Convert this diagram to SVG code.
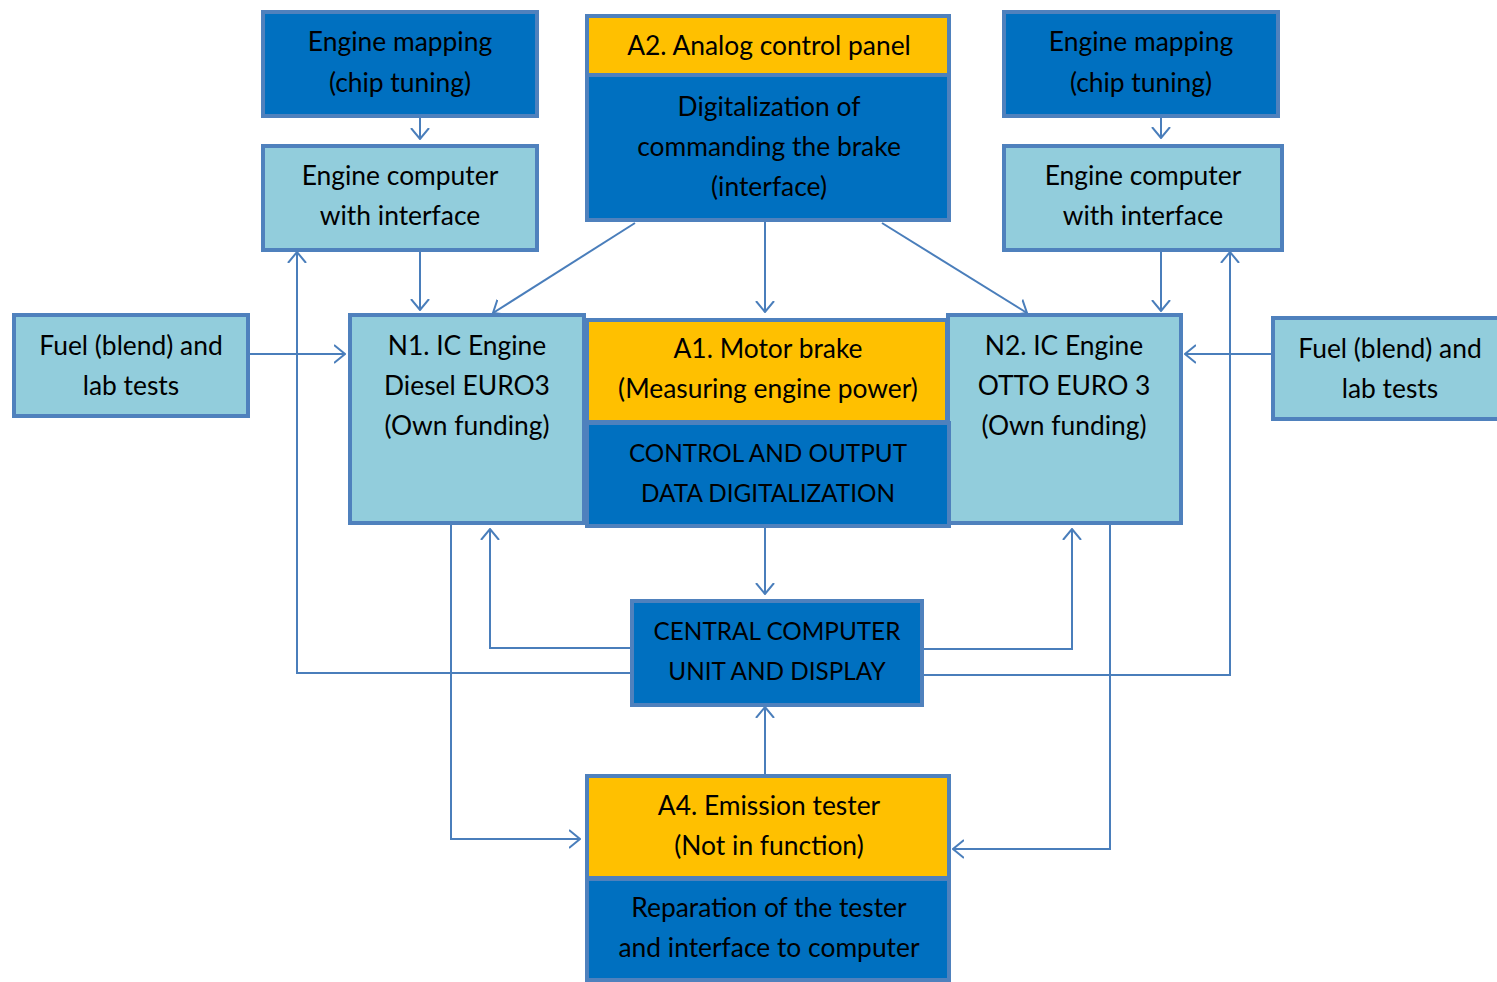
<svg xmlns="http://www.w3.org/2000/svg" width="1497" height="982" viewBox="0 0 1497 982">
<style>
.dk{fill:#0070C0;stroke:#4F81BD;stroke-width:4}
.lt{fill:#92CDDC;stroke:#4F81BD;stroke-width:4}
.yl{fill:#FFC000;stroke:#4F81BD;stroke-width:4}
text{font-family:Lato,"Open Sans","Liberation Sans",sans-serif;font-size:26.4px;fill:#000;text-anchor:middle}
text.u{font-size:24.3px}
.c{fill:none;stroke:#4A7EBB;stroke-width:2}
</style>
<defs>
<marker id="ah" viewBox="0 0 12 20" refX="11" refY="10" markerWidth="12" markerHeight="20" markerUnits="userSpaceOnUse" orient="auto">
<path d="M0,1 L11,10 L0,19" fill="none" stroke="#4A7EBB" stroke-width="2"/>
</marker>
</defs>
<rect width="1497" height="982" fill="#fff"/>
<g id="connectors">
<line class="c" x1="420" y1="117" x2="420" y2="139" marker-end="url(#ah)"/>
<line class="c" x1="420" y1="252" x2="420" y2="310" marker-end="url(#ah)"/>
<line class="c" x1="635" y1="223" x2="493" y2="313" marker-end="url(#ah)"/>
<line class="c" x1="765" y1="222" x2="765" y2="312" marker-end="url(#ah)"/>
<line class="c" x1="882" y1="223" x2="1027" y2="313" marker-end="url(#ah)"/>
<line class="c" x1="1161" y1="117" x2="1161" y2="138" marker-end="url(#ah)"/>
<line class="c" x1="1161" y1="252" x2="1161" y2="311" marker-end="url(#ah)"/>
<line class="c" x1="249" y1="354" x2="345" y2="354" marker-end="url(#ah)"/>
<line class="c" x1="1272" y1="354" x2="1185" y2="354" marker-end="url(#ah)"/>
<line class="c" x1="765" y1="528" x2="765" y2="594" marker-end="url(#ah)"/>
<polyline class="c" points="630,648 490,648 490,529" marker-end="url(#ah)"/>
<polyline class="c" points="630,673 297,673 297,252" marker-end="url(#ah)"/>
<polyline class="c" points="924,649 1072,649 1072,529" marker-end="url(#ah)"/>
<polyline class="c" points="924,675 1230,675 1230,252" marker-end="url(#ah)"/>
<line class="c" x1="765" y1="774" x2="765" y2="707" marker-end="url(#ah)"/>
<polyline class="c" points="451,525 451,839 580,839" marker-end="url(#ah)"/>
<polyline class="c" points="1110,525 1110,849 953,849" marker-end="url(#ah)"/>
</g>
<g id="map-left">
<rect class="dk" x="263" y="12" width="274" height="104"/>
<text x="400" y="51">Engine mapping</text>
<text x="400" y="92">(chip tuning)</text>
</g>
<g id="ecu-left">
<rect class="lt" x="263" y="146" width="274" height="104"/>
<text x="400" y="185">Engine computer</text>
<text x="400" y="225">with interface</text>
</g>
<g id="a2">
<rect class="yl" x="587" y="16" width="362" height="59"/>
<rect class="dk" x="587" y="75" width="362" height="145"/>
<text x="769" y="55">A2. Analog control panel</text>
<text x="769" y="116">Digitalization of</text>
<text x="769" y="156">commanding the brake</text>
<text x="769" y="196">(interface)</text>
</g>
<g id="map-right">
<rect class="dk" x="1004" y="12" width="274" height="104"/>
<text x="1141" y="51">Engine mapping</text>
<text x="1141" y="92">(chip tuning)</text>
</g>
<g id="ecu-right">
<rect class="lt" x="1004" y="146" width="278" height="104"/>
<text x="1143" y="185">Engine computer</text>
<text x="1143" y="225">with interface</text>
</g>
<g id="fuel-left">
<rect class="lt" x="14" y="315" width="234" height="101"/>
<text x="131" y="355">Fuel (blend) and</text>
<text x="131" y="395">lab tests</text>
</g>
<g id="n1">
<rect class="lt" x="350" y="315" width="234" height="208"/>
<text x="467" y="355">N1. IC Engine</text>
<text x="467" y="395">Diesel EURO3</text>
<text x="467" y="435">(Own funding)</text>
</g>
<g id="n2">
<rect class="lt" x="948" y="315" width="233" height="208"/>
<text x="1064" y="355">N2. IC Engine</text>
<text x="1064" y="395">OTTO EURO 3</text>
<text x="1064" y="435">(Own funding)</text>
</g>
<g id="a1">
<rect class="yl" x="587" y="320" width="360" height="102"/>
<rect class="dk" x="587" y="423" width="362" height="103"/>
<text x="768" y="358">A1. Motor brake</text>
<text x="768" y="398">(Measuring engine power)</text>
<text class="u" x="768" y="462">CONTROL AND OUTPUT</text>
<text class="u" x="768" y="502">DATA DIGITALIZATION</text>
</g>
<g id="fuel-right">
<rect class="lt" x="1273" y="318" width="230" height="101"/>
<text x="1390" y="358">Fuel (blend) and</text>
<text x="1390" y="398">lab tests</text>
</g>
<g id="central">
<rect class="dk" x="632" y="601" width="290" height="104"/>
<text class="u" x="777" y="640">CENTRAL COMPUTER</text>
<text class="u" x="777" y="680">UNIT AND DISPLAY</text>
</g>
<g id="a4">
<rect class="yl" x="587" y="776" width="362" height="102"/>
<rect class="dk" x="587" y="879" width="362" height="101"/>
<text x="769" y="815">A4. Emission tester</text>
<text x="769" y="855">(Not in function)</text>
<text x="769" y="917">Reparation of the tester</text>
<text x="769" y="957">and interface to computer</text>
</g>
</svg>
